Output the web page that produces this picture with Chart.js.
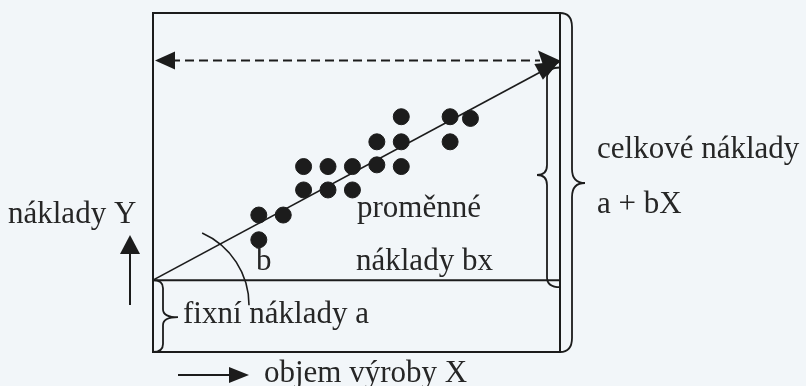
<!DOCTYPE html>
<html lang="cs">
<head>
<meta charset="utf-8">
<title>Fixní a proměnné náklady</title>
<script src="https://cdn.jsdelivr.net/npm/chart.js@4"></script>
<style>
  html, body { margin: 0; padding: 0; background: #f2f6f9; }
  canvas { display: block; }
</style>
</head>
<body>
<canvas id="costChart" width="806" height="386"></canvas>
<script>
// pozorování: objem výroby (x) a náklady (y)
const volumeX = [26, 32, 26, 37, 43, 49, 55, 61, 37, 43, 49, 55, 61, 73, 61, 73, 78];
const costY   = [40.4, 40.4, 33.1, 54.7, 54.7, 54.7, 55.2, 54.7, 47.8, 47.8, 47.8, 62.0, 62.0, 62.0, 69.4, 69.4, 68.9];

// regresní přímka y = a + bX
const fixedCost = 21.2;   // a
const slope = 0.645;      // b
const lineEnd = 100;

const labelsCs = {
  costs: 'náklady Y',
  volume: 'objem výroby X',
  total: 'celkové náklady',
  totalFormula: 'a + bX',
  variable1: 'proměnné',
  variable2: 'náklady bx',
  fixed: 'fixní náklady a',
  slopeName: 'b'
};

const ink = '#1c1c1c';
const textInk = '#262626';
const serif = '31px "Liberation Serif", "DejaVu Serif", serif';

const scatterData = volumeX.map((x, i) => ({ x: x, y: costY[i] }));
const lineData = [
  { x: 0, y: fixedCost },
  { x: lineEnd, y: fixedCost + slope * lineEnd }
];

function brace(ctx, xEnd, xSpine, xTip, y1, y2, yTip, r) {
  ctx.beginPath();
  ctx.moveTo(xEnd, y1);
  ctx.quadraticCurveTo(xSpine, y1, xSpine, y1 + r);
  ctx.lineTo(xSpine, yTip - r);
  ctx.quadraticCurveTo(xSpine, yTip, xTip, yTip);
  ctx.quadraticCurveTo(xSpine, yTip, xSpine, yTip + r);
  ctx.lineTo(xSpine, y2 - r);
  ctx.quadraticCurveTo(xSpine, y2, xEnd, y2);
  ctx.stroke();
}

function triangle(ctx, pts) {
  ctx.beginPath();
  ctx.moveTo(pts[0][0], pts[0][1]);
  ctx.lineTo(pts[1][0], pts[1][1]);
  ctx.lineTo(pts[2][0], pts[2][1]);
  ctx.closePath();
  ctx.fill();
}

// rám, závorky, šipky a popisky
const diagramPlugin = {
  id: 'diagram',
  beforeDatasetsDraw(chart) {
    const ctx = chart.ctx;
    const a = chart.chartArea;
    const xs = chart.scales.x, ys = chart.scales.y;
    const yFix = ys.getPixelForValue(fixedCost);
    const x0 = xs.getPixelForValue(0);
    const tipY = ys.getPixelForValue(fixedCost + slope * lineEnd);

    ctx.save();
    ctx.strokeStyle = ink;
    ctx.fillStyle = ink;
    ctx.lineWidth = 2;

    // rám grafu a hranice fixních nákladů
    ctx.strokeRect(a.left, a.top, a.right - a.left, a.bottom - a.top);
    ctx.beginPath();
    ctx.moveTo(a.left, yFix);
    ctx.lineTo(a.right, yFix);
    ctx.stroke();

    // přerušovaná šipka přes celou šířku
    const dashY = tipY - 1;
    ctx.setLineDash([9, 5]);
    ctx.beginPath();
    ctx.moveTo(a.left + 18, dashY);
    ctx.lineTo(a.right - 20, dashY);
    ctx.stroke();
    ctx.setLineDash([]);
    triangle(ctx, [[a.left + 2, dashY], [a.left + 22, dashY - 9], [a.left + 22, dashY + 9]]);
    triangle(ctx, [[a.right, dashY], [a.right - 22, dashY - 10], [a.right - 13, dashY + 16]]);

    // úhel b
    ctx.lineWidth = 1.6;
    ctx.beginPath();
    ctx.arc(x0 + 17, yFix + 25, 79, -66 * Math.PI / 180, 0);
    ctx.stroke();

    // závorky
    ctx.lineWidth = 1.8;
    brace(ctx, a.right, a.right - 13, a.right - 23, tipY + 6, yFix + 7, a.top + 162, 10);
    brace(ctx, a.right, a.right + 12, a.right + 25, a.top, a.bottom, a.top + 170, 14);
    brace(ctx, a.left, a.left + 10, a.left + 25, yFix, a.bottom, yFix + 37, 8);

    // šipky os
    ctx.lineWidth = 2;
    ctx.beginPath();
    ctx.moveTo(130, 305);
    ctx.lineTo(130, 253);
    ctx.stroke();
    triangle(ctx, [[130, 235], [120, 254], [140, 254]]);
    ctx.beginPath();
    ctx.moveTo(178, 375);
    ctx.lineTo(232, 375);
    ctx.stroke();
    triangle(ctx, [[249, 375], [229, 367], [229, 383]]);

    // popisky
    ctx.fillStyle = textInk;
    ctx.font = serif;
    ctx.textBaseline = 'alphabetic';
    ctx.fillText(labelsCs.costs, 8, 223);
    ctx.fillText(labelsCs.total, 597, 158);
    ctx.fillText(labelsCs.totalFormula, 597, 213);
    ctx.fillText(labelsCs.variable1, 357, 217);
    ctx.fillText(labelsCs.slopeName, 256, 270);
    ctx.fillText(labelsCs.variable2, 356, 270);
    ctx.fillText(labelsCs.fixed, 183, 323);
    ctx.fillText(labelsCs.volume, 264, 382);
    ctx.restore();
  },
  afterDatasetsDraw(chart) {
    // hrot regresní přímky
    const ctx = chart.ctx;
    const xs = chart.scales.x, ys = chart.scales.y;
    const tx = xs.getPixelForValue(lineEnd) - 2;
    const ty = ys.getPixelForValue(fixedCost + slope * lineEnd);
    const sx = xs.getPixelForValue(0), sy = ys.getPixelForValue(fixedCost);
    const len = Math.hypot(tx - sx, ty - sy);
    const dx = (tx - sx) / len, dy = (ty - sy) / len;
    const bx = tx - dx * 22, by = ty - dy * 22;
    ctx.save();
    ctx.fillStyle = ink;
    triangle(ctx, [[tx, ty], [bx - dy * 9, by + dx * 9], [bx + dy * 9, by - dx * 9]]);
    ctx.restore();
  }
};

new Chart(document.getElementById('costChart'), {
  type: 'scatter',
  data: {
    datasets: [
      {
        label: 'pozorování',
        data: scatterData,
        backgroundColor: ink,
        borderColor: ink,
        pointRadius: 8,
        pointHoverRadius: 8
      },
      {
        type: 'line',
        label: 'a + bX',
        data: lineData,
        borderColor: ink,
        borderWidth: 1.6,
        pointRadius: 0,
        fill: false
      }
    ]
  },
  options: {
    responsive: false,
    animation: false,
    devicePixelRatio: 1,
    layout: { padding: { left: 153, right: 246, top: 13, bottom: 34 } },
    scales: {
      x: { type: 'linear', min: 0, max: 100, display: false },
      y: { type: 'linear', min: 0, max: 100, display: false }
    },
    plugins: {
      legend: { display: false },
      tooltip: { enabled: false }
    }
  },
  plugins: [diagramPlugin]
});
</script>
</body>
</html>
